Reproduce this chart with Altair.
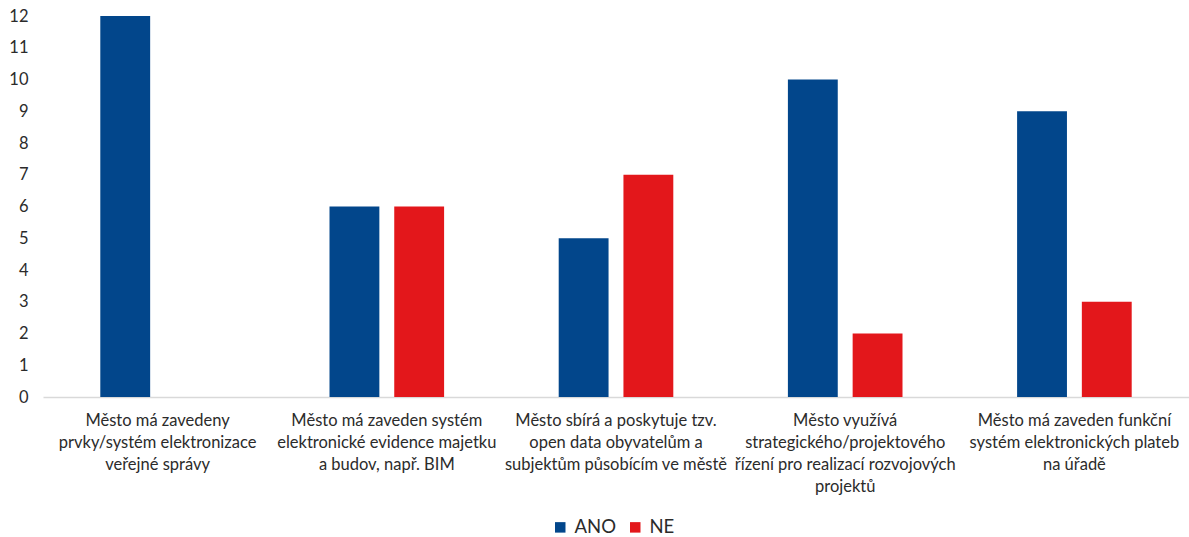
import altair as alt
import pandas as pd

# Survey answers per e-government question
categories = [
    "Město má zavedeny\nprvky/systém elektronizace\nveřejné správy",
    "Město má zaveden systém\nelektronické evidence majetku\na budov, např. BIM",
    "Město sbírá a poskytuje tzv.\nopen data obyvatelům a\nsubjektům působícím ve městě",
    "Město využívá\nstrategického/projektového\nřízení pro realizací rozvojových\nprojektů",
    "Město má zaveden funkční\nsystém elektronických plateb\nna úřadě",
]
ano = [12, 6, 5, 10, 9]
ne = [0, 6, 7, 2, 3]
series = ["ANO", "NE"]
colors = ["#02468B", "#E3171B"]

rows = []
for c, a, n in zip(categories, ano, ne):
    rows.append({"kategorie": c, "odpoved": "ANO", "pocet": a})
    rows.append({"kategorie": c, "odpoved": "NE", "pocet": n})
df = pd.DataFrame(rows)

FONT = "Lato"
TEXT = "#2B2B2B"

chart = (
    alt.Chart(df)
    .mark_bar()
    .encode(
        x=alt.X(
            "kategorie:N",
            sort=categories,
            title=None,
            scale=alt.Scale(paddingInner=0.5, paddingOuter=0.25),
            axis=alt.Axis(
                labelAngle=0,
                labelExpr="split(datum.label, '\\n')",
                labelLineHeight=22,
                labelPadding=15,
                labelFontSize=16.5,
                labelColor=TEXT,
                labelFont=FONT,
                ticks=False,
                domainColor="#D9D9D9",
                domainWidth=1.5,
                labelLimit=300,
            ),
        ),
        xOffset=alt.XOffset(
            "odpoved:N",
            sort=series,
            scale=alt.Scale(paddingInner=0.23, paddingOuter=0),
        ),
        y=alt.Y(
            "pocet:Q",
            title=None,
            scale=alt.Scale(domain=[0, 12], nice=False),
            axis=alt.Axis(
                values=list(range(0, 13)),
                grid=False,
                domain=False,
                ticks=False,
                labelPadding=15,
                labelFontSize=16.5,
                labelColor=TEXT,
                labelFont=FONT,
            ),
        ),
        color=alt.Color(
            "odpoved:N",
            sort=series,
            scale=alt.Scale(domain=series, range=colors),
            legend=alt.Legend(
                title=None,
                orient="none",
                direction="horizontal",
                legendX=508,
                legendY=502,
                symbolType="square",
                symbolSize=110,
                symbolStrokeWidth=0,
                labelFontSize=18.5,
                labelOffset=5,
                labelFont=FONT,
                labelColor=TEXT,
                columnPadding=10,
            ),
        ),
    )
    .properties(
        width=1146,
        height=381,
        autosize=alt.AutoSizeParams(type="none"),
        padding={"left": 43, "top": 16, "right": 0, "bottom": 140},
    )
    .configure(background="white")
    .configure_view(stroke=None)
)

chart.save("out.html", embed_options={"renderer": "svg", "actions": False})
